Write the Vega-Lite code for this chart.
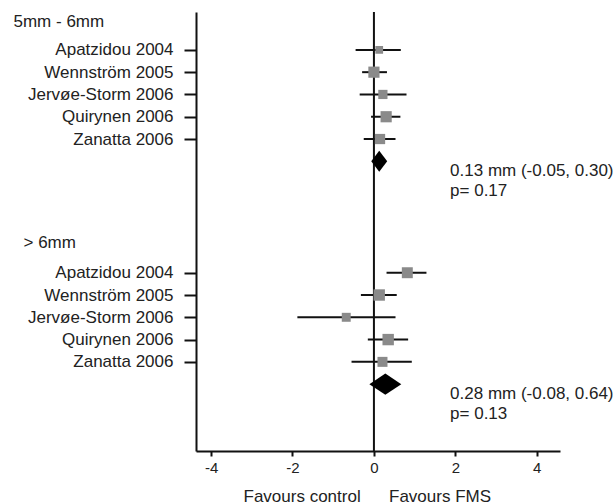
{
  "$schema": "https://vega.github.io/schema/vega-lite/v6.json",
  "width": 364,
  "height": 439,
  "autosize": {"type": "none"},
  "padding": {"left": 196, "top": 12, "right": 56, "bottom": 53},
  "background": "white",
  "config": {
    "view": {"stroke": null},
    "font": "Liberation Sans",
    "axis": {"domainColor": "#111", "domainWidth": 2, "tickColor": "#111", "tickWidth": 2, "grid": false, "labelColor": "#222", "labelFont": "Liberation Sans", "titleFont": "Liberation Sans"}
  },
  "data": {
    "values": [
      {"section": "5mm - 6mm", "study": "Apatzidou 2004", "type": "study", "row": 1, "est": 0.13, "lo": -0.45, "hi": 0.66, "w": 12},
      {"section": "5mm - 6mm", "study": "Wennström 2005", "type": "study", "row": 2, "est": 0.0, "lo": -0.29, "hi": 0.32, "w": 25},
      {"section": "5mm - 6mm", "study": "Jervøe-Storm 2006", "type": "study", "row": 3, "est": 0.22, "lo": -0.35, "hi": 0.8, "w": 17},
      {"section": "5mm - 6mm", "study": "Quirynen 2006", "type": "study", "row": 4, "est": 0.3, "lo": -0.07, "hi": 0.65, "w": 25},
      {"section": "5mm - 6mm", "study": "Zanatta 2006", "type": "study", "row": 5, "est": 0.15, "lo": -0.25, "hi": 0.53, "w": 21},
      {"section": "5mm - 6mm", "study": "Overall", "type": "summary", "row": 6, "est": 0.13, "lo": -0.05, "hi": 0.3, "note": "0.13 mm (-0.05, 0.30)\np= 0.17"},
      {"section": "> 6mm", "study": "Apatzidou 2004", "type": "study", "row": 11, "est": 0.82, "lo": 0.31, "hi": 1.29, "w": 24},
      {"section": "> 6mm", "study": "Wennström 2005", "type": "study", "row": 12, "est": 0.13, "lo": -0.32, "hi": 0.56, "w": 26},
      {"section": "> 6mm", "study": "Jervøe-Storm 2006", "type": "study", "row": 13, "est": -0.68, "lo": -1.88, "hi": 0.53, "w": 16},
      {"section": "> 6mm", "study": "Quirynen 2006", "type": "study", "row": 14, "est": 0.35, "lo": -0.15, "hi": 0.84, "w": 26},
      {"section": "> 6mm", "study": "Zanatta 2006", "type": "study", "row": 15, "est": 0.21, "lo": -0.55, "hi": 0.93, "w": 20},
      {"section": "> 6mm", "study": "Overall", "type": "summary", "row": 16, "est": 0.28, "lo": -0.08, "hi": 0.64, "note": "0.28 mm (-0.08, 0.64)\np= 0.13"}
    ]
  },
  "layer": [
    {
      "transform": [{"filter": "datum.type == 'study'"}],
      "mark": {"type": "rule", "color": "#111", "strokeWidth": 2},
      "encoding": {
        "x": {
          "field": "lo", "type": "quantitative",
          "scale": {"domain": [-4.37, 4.57], "nice": false, "zero": false},
          "axis": {
            "values": [-4, -2, 0, 2, 4], "tickCount": 20, "tickSize": 5, "labelFontSize": 15, "labelPadding": 4, "labelFlush": false,
            "labelExpr": "datum.value < 0 ? '-' + abs(datum.value) : '' + datum.value",
            "title": "Favours control\u00a0\u00a0\u00a0\u00a0\u00a0\u00a0Favours FMS",
            "titleFontSize": 17, "titleFontWeight": "normal", "titleColor": "#222",
            "titleX": 47, "titleY": 45, "titleAlign": "left", "titleBaseline": "middle"
          }
        },
        "x2": {"field": "hi"},
        "y": {
          "field": "row", "type": "quantitative",
          "scale": {"domain": [-0.7, 19], "nice": false, "zero": false, "reverse": true},
          "axis": {
            "title": null,
            "values": [-0.26, 1, 2, 3, 4, 5, 9.65, 11, 12, 13, 14, 15],
            "tickCount": 40,
            "labelExpr": "['5mm - 6mm','Apatzidou 2004','Wennström 2005','Jervøe-Storm 2006','Quirynen 2006','Zanatta 2006','> 6mm','Apatzidou 2004','Wennström 2005','Jervøe-Storm 2006','Quirynen 2006','Zanatta 2006'][indexof([-0.26,1,2,3,4,5,9.65,11,12,13,14,15], datum.value)]",
            "tickSize": 12,
            "labelFontSize": 17,
            "labelBaseline": "middle",
            "labelOverlap": false,
            "labelFlush": false,
            "labelPadding": {"condition": [{"test": "datum.value < 0", "value": 171}, {"test": "datum.value == 9.65", "value": 161}], "value": 11},
            "labelAlign": {"condition": {"test": "datum.value < 0 || datum.value == 9.65", "value": "left"}, "value": "right"},
            "tickOpacity": {"condition": {"test": "datum.value < 0 || datum.value == 9.65", "value": 0}, "value": 1}
          }
        }
      }
    },
    {
      "data": {"values": [{}]},
      "mark": {"type": "rule", "color": "#111", "strokeWidth": 2},
      "encoding": {"x": {"datum": 0, "type": "quantitative"}}
    },
    {
      "transform": [{"filter": "datum.type == 'study'"}],
      "mark": {"type": "point", "shape": "square", "filled": true, "color": "#8a8a8a", "opacity": 1},
      "encoding": {
        "x": {"field": "est", "type": "quantitative"},
        "y": {"field": "row", "type": "quantitative"},
        "size": {"field": "w", "type": "quantitative", "scale": {"domain": [0, 25], "range": [0, 125], "zero": true}, "legend": null}
      }
    },
    {
      "transform": [{"filter": "datum.type == 'summary'"}],
      "mark": {"type": "point", "filled": true, "color": "#000", "opacity": 1, "size": 430},
      "encoding": {
        "x": {"field": "est", "type": "quantitative"},
        "y": {"field": "row", "type": "quantitative"},
        "shape": {"field": "section", "type": "nominal", "scale": {"domain": ["5mm - 6mm", "> 6mm"], "range": ["M-0.77,0L0,-1.01L0.77,0L0,1.01Z", "M-1.54,0L0,-1.03L1.54,0L0,1.03Z"]}, "legend": null}
      }
    },
    {
      "transform": [{"filter": "datum.type == 'summary'"}],
      "mark": {"type": "text", "align": "left", "baseline": "middle", "dy": 10, "lineBreak": "\n", "lineHeight": 20, "fontSize": 17, "color": "#222", "font": "Liberation Sans"},
      "encoding": {
        "x": {"datum": 1.87, "type": "quantitative"},
        "y": {"field": "row", "type": "quantitative"},
        "text": {"field": "note"}
      }
    }
  ]
}
